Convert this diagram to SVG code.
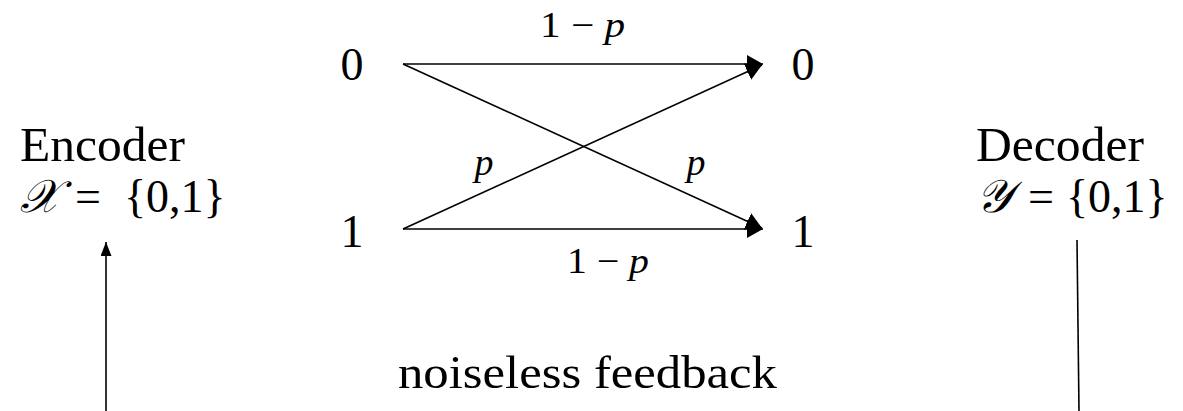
<svg xmlns="http://www.w3.org/2000/svg" width="1183" height="411" viewBox="0 0 1183 411">
<style>
  .t { font-family: "Liberation Serif", "DejaVu Serif", serif; fill: #000; }
  .m { font-family: "Liberation Serif", "DejaVu Serif", serif; font-style: italic; fill: #000; }
  .ln { stroke: #000; stroke-width: 1.6; fill: none; }
</style>
<defs>
  <marker id="ah" markerUnits="userSpaceOnUse" markerWidth="17" markerHeight="19" refX="16" refY="9" orient="auto">
    <path d="M0,0 L16,9 L0,18 Z" fill="#000"/>
  </marker>
  <marker id="ah2" markerUnits="userSpaceOnUse" markerWidth="15" markerHeight="12" refX="14" refY="5.5" orient="auto">
    <path d="M0,0 L14,5.5 L0,11 Z" fill="#000"/>
  </marker>
</defs>
<rect width="1183" height="411" fill="#fff"/>
<g id="encoder">
  <text class="t" x="20" y="161" font-size="48" textLength="165" lengthAdjust="spacingAndGlyphs">Encoder</text>
  <text class="t" y="212" font-size="46"><tspan class="m" x="20">𝒳</tspan><tspan x="75">=</tspan><tspan x="124">{0,1}</tspan></text>
</g>
<g id="decoder">
  <text class="t" x="976" y="161" font-size="48" textLength="168" lengthAdjust="spacingAndGlyphs">Decoder</text>
  <text class="t" y="212" font-size="46"><tspan class="m" x="976">𝒴</tspan><tspan x="1028">=</tspan><tspan x="1066">{0,1}</tspan></text>
</g>
<g id="in0"><text class="t" x="352" y="80" font-size="46" text-anchor="middle">0</text></g>
<g id="in1"><text class="t" x="352" y="247" font-size="46" text-anchor="middle">1</text></g>
<g id="out0"><text class="t" x="803" y="80" font-size="46" text-anchor="middle">0</text></g>
<g id="out1"><text class="t" x="803" y="247" font-size="46" text-anchor="middle">1</text></g>
<g id="connectors">
  <line class="ln" x1="403" y1="64" x2="763" y2="64" marker-end="url(#ah)"/>
  <line class="ln" x1="403" y1="229" x2="763" y2="229" marker-end="url(#ah)"/>
  <line class="ln" x1="403" y1="64" x2="762" y2="228" marker-end="url(#ah)"/>
  <line class="ln" x1="403" y1="229" x2="762" y2="65" marker-end="url(#ah)"/>
  <line class="ln" x1="106" y1="411" x2="106" y2="242" marker-end="url(#ah2)"/>
  <line class="ln" x1="1077" y1="240" x2="1079" y2="411"/>
</g>
<g id="labels">
  <text class="t" x="540" y="37" font-size="36" textLength="85" lengthAdjust="spacingAndGlyphs">1 − <tspan class="m">p</tspan></text>
  <text class="m" x="484" y="175" font-size="38" text-anchor="middle">p</text>
  <text class="m" x="696" y="175" font-size="38" text-anchor="middle">p</text>
  <text class="t" x="567" y="273" font-size="36" textLength="82" lengthAdjust="spacingAndGlyphs">1 − <tspan class="m">p</tspan></text>
  <text class="t" x="398" y="388" font-size="46" textLength="379" lengthAdjust="spacingAndGlyphs">noiseless feedback</text>
</g>
</svg>
